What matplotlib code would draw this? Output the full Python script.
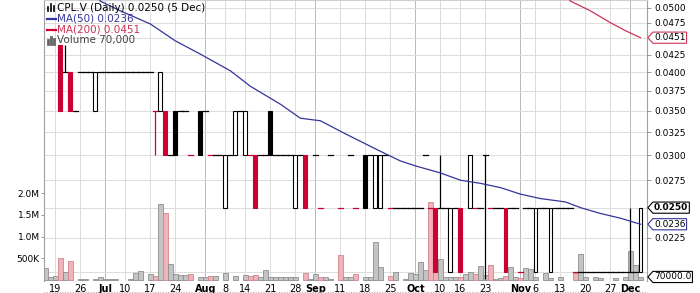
import numpy as np
import pandas as pd
import matplotlib
matplotlib.use('Agg')
import matplotlib.pyplot as plt
import matplotlib.transforms as mtransforms
from matplotlib.path import Path
from matplotlib.lines import Line2D
from matplotlib.patches import Rectangle
from matplotlib.ticker import NullLocator, NullFormatter

# trading days (TSX-V, 2017), holidays removed
days = pd.bdate_range('2017-06-15', '2017-12-05')
days = days.difference(pd.to_datetime(['2017-07-03', '2017-08-07', '2017-09-04', '2017-10-09']))

N = np.nan
open_ = [
    N, N, N, .044, .040, .040, .035, .040, .040, .040,
    .035, .040, .040, .040, .040, .040, .040, .040, .040, .040,
    .040, .040, .035, .035, .035, .030, .035, .035, .035, .030,
    N, .035, .035, .030, .030, .030, .025, .030, .030, .035,
    .030, .030, .030, .030, .030, .035, .030, .030, .030, .030,
    .025, .030, .030, N, .030, .025, N, .030, N, .025,
    N, .030, .025, N, .030, .030, .025, .025, .030, .025,
    .025, .025, .025, .025, .025, .025, .030, .025, .025, .025,
    .025, .020, .025, .025, N, .025, .025, .025, .030, .025,
    .025, .025, .025, .025, .025, .020, .025, .025, .020, .025,
    .025, .020, .025, .025, .025, .025, .020, .020, .020, .020,
    .020, .020, .020, .020, .020, .020, .020, .020, .020, .020,
]
high = [
    N, N, N, .044, .044, .040, .035, .040, .040, .040,
    .040, .040, .040, .040, .040, .040, .040, .040, .040, .040,
    .040, .040, .035, .040, .035, .030, .035, .035, .035, .030,
    N, .035, .035, .030, .030, .030, .030, .030, .035, .035,
    .035, .030, .030, .030, .030, .035, .030, .030, .030, .030,
    .030, .030, .030, N, .030, .025, N, .030, N, .025,
    N, .030, .025, N, .030, .030, .030, .030, .030, .025,
    .025, .025, .025, .025, .025, .025, .030, .025, .025, .030,
    .025, .025, .025, .025, N, .030, .025, .025, .030, .025,
    .025, .025, .025, .025, .025, .020, .025, .025, .025, .025,
    .025, .025, .025, .025, .025, .025, .020, .020, .020, .020,
    .020, .020, .020, .020, .020, .020, .020, .025, .020, .025,
]
low = [
    N, N, N, .035, .040, .035, .035, .040, .040, .040,
    .035, .040, .040, .040, .040, .040, .040, .040, .040, .040,
    .040, .040, .030, .035, .030, .030, .030, .035, .035, .030,
    N, .030, .035, .030, .030, .030, .025, .030, .030, .035,
    .030, .030, .025, .030, .030, .030, .030, .030, .030, .030,
    .025, .030, .025, N, .030, .025, N, .030, N, .025,
    N, .030, .025, N, .025, .030, .025, .025, .030, .025,
    .025, .025, .025, .025, .025, .025, .030, .025, .020, .025,
    .025, .020, .025, .020, N, .025, .025, .025, .0195, .025,
    .025, .025, .020, .025, .025, .020, .025, .025, .020, .025,
    .025, .020, .025, .025, .025, .025, .020, .020, .020, .020,
    .020, .020, .020, .020, .020, .020, .020, .020, .020, .020,
]
close = [
    N, N, N, .035, .040, .035, .035, .040, .040, .040,
    .040, .040, .040, .040, .040, .040, .040, .040, .040, .040,
    .040, .040, .035, .040, .030, .030, .030, .035, .035, .030,
    N, .030, .035, .030, .030, .030, .030, .030, .035, .035,
    .035, .030, .025, .030, .030, .030, .030, .030, .030, .030,
    .030, .030, .025, N, .030, .025, N, .030, N, .025,
    N, .030, .025, N, .025, .030, .030, .030, .030, .025,
    .025, .025, .025, .025, .025, .025, .030, .025, .020, .025,
    .025, .025, .025, .020, N, .030, .025, .025, .030, .025,
    .025, .025, .020, .025, .025, .020, .025, .025, .025, .025,
    .025, .025, .025, .025, .025, .025, .020, .020, .020, .020,
    .020, .020, .020, .020, .020, .020, .020, .020, .020, .025,
]
# volume in thousands of shares
volume_k = [
    270, 62, 92, 500, 177, 438, 0, 30, 30, 0,
    30, 60, 30, 30, 30, 0, 0, 15, 170, 200,
    0, 130, 90, 1750, 1540, 370, 130, 110, 110, 130,
    0, 60, 60, 90, 90, 0, 170, 0, 90, 0,
    120, 100, 120, 70, 240, 60, 60, 60, 80, 80,
    80, 0, 170, 20, 130, 80, 80, 30, 0, 575,
    76, 60, 130, 0, 76, 60, 875, 306, 0, 92,
    177, 0, 30, 170, 130, 408, 230, 1800, 450, 480,
    76, 76, 60, 76, 130, 180, 130, 320, 115, 345,
    20, 40, 100, 306, 60, 40, 285, 246, 76, 0,
    160, 40, 0, 60, 0, 0, 150, 590, 76, 0,
    76, 40, 0, 0, 40, 0, 76, 670, 340, 70,
]

# moving averages (day index, value)
ma50_day = [10, 11, 15, 21, 26, 31, 37, 41, 47, 51, 55, 60, 64, 67, 71, 74, 79, 83, 87, 91, 95, 99, 104, 107, 111, 115, 119]
ma50 = [0.0525, 0.0512, 0.0495, 0.0473, 0.0446, 0.0426, 0.0402, 0.0381, 0.0358, 0.0341, 0.0338, 0.0323, 0.0312,
        0.0304, 0.0294, 0.0289, 0.0282, 0.0275, 0.0272, 0.0268, 0.0262, 0.0258, 0.0255, 0.0250, 0.0245, 0.0241, 0.0236]
ma200_day = [104, 105, 109, 113, 116, 119]
ma200 = [0.0525, 0.0512, 0.0495, 0.0475, 0.0462, 0.0451]

# x labels
label_dates = ['2017-06-19', '2017-06-26', '2017-07-04', '2017-07-10', '2017-07-17', '2017-07-24',
               '2017-08-01', '2017-08-08', '2017-08-14', '2017-08-21', '2017-08-28', '2017-09-01',
               '2017-09-11', '2017-09-18', '2017-09-25', '2017-10-02', '2017-10-10', '2017-10-16',
               '2017-10-23', '2017-11-01', '2017-11-06', '2017-11-13', '2017-11-20', '2017-11-27',
               '2017-12-01']
labels = ['19', '26', 'Jul', '10', '17', '24', 'Aug', '8', '14', '21', '28', 'Sep', '11', '18', '25',
          'Oct', '10', '16', '23', 'Nov', '6', '13', '20', '27', 'Dec']
months = ['Jul', 'Aug', 'Sep', 'Oct', 'Nov', 'Dec']

price_ticks = [0.0225, 0.0275, 0.0300, 0.0325, 0.0350, 0.0375, 0.0400, 0.0425, 0.0475, 0.0500]
grid_prices = [0.0200, 0.0225, 0.0250, 0.0275, 0.0300, 0.0325, 0.0350, 0.0375, 0.0400, 0.0425,
               0.0450, 0.0475, 0.0500]
vol_ticks = [500e3, 1.0e6, 1.5e6, 2.0e6]
vol_labels = ['500K', '1.0M', '1.5M', '2.0M']

RED = '#cc0033'
NAVY = '#35359a'
MA200_RED = '#cc3355'
P_LO, P_HI = 0.01938, 0.0514
V_LO, V_HI = -23000, 6.45e6

x = np.arange(len(days))
o = np.array(open_)
h = np.array(high)
l = np.array(low)
c = np.array(close)
vol = np.array(volume_k) * 1000.0

# down day = close below previous close
down = np.zeros(len(c), dtype=bool)
prev = np.nan
for i in range(len(c)):
    if np.isnan(c[i]):
        continue
    ref = prev if not np.isnan(prev) else o[i]
    down[i] = c[i] < ref
    prev = c[i]

fig = plt.figure(figsize=(7, 2.93), dpi=100)
rect = [44 / 700, 12 / 293, 603 / 700, 281 / 293]
axv = fig.add_axes(rect)
ax = fig.add_axes(rect, sharex=axv)
ax.set_facecolor('none')

axv.set_xlim(-0.26, 120.3)
axv.set_ylim(V_LO, V_HI)
ax.set_yscale('log')
ax.set_ylim(P_LO, P_HI)

# grid (behind the volume bars)
label_idx = [days.get_loc(pd.Timestamp(d)) for d in label_dates]
for d, lbl in zip(label_idx, labels):
    axv.axvline(d, color='#b8b8b8' if lbl in months else '#dcdcdc', lw=0.7, zorder=0)
lo, hi = np.log(P_LO), np.log(P_HI)
for p in grid_prices:
    f = (np.log(p) - lo) / (hi - lo)
    axv.plot([0, 1], [f, f], transform=axv.transAxes, color='#dcdcdc', lw=0.7, zorder=0)

# volume
keep = vol > 0
vcol = np.where(down, '#eeb4ba', '#c4c4c4')
vedge = np.where(down, '#d0848e', '#8e8e8e')
axv.bar(x[keep], vol[keep], width=0.9, color=vcol[keep], edgecolor=vedge[keep], linewidth=0.6, zorder=2)

# candles
for i in range(len(c)):
    if np.isnan(c[i]):
        continue
    col = RED if down[i] else 'black'
    top, bot = max(o[i], c[i]), min(o[i], c[i])
    if h[i] > top:
        ax.vlines(i, top, h[i], color=col, lw=0.9, zorder=3)
    if l[i] < bot:
        ax.vlines(i, l[i], bot, color=col, lw=0.9, zorder=3)
    if o[i] == c[i]:
        ax.hlines(c[i], i - 0.5, i + 0.5, color=col, lw=0.9, capstyle='projecting', zorder=3)
    else:
        fc = col if c[i] < o[i] else 'white'
        ax.add_patch(Rectangle((i - 0.39, bot), 0.78, top - bot, facecolor=fc,
                               edgecolor=col, lw=0.8, zorder=4))

# moving averages
ax.plot(ma50_day, ma50, color=NAVY, lw=0.9, zorder=5)
ax.plot(ma200_day, ma200, color=MA200_RED, lw=0.9, zorder=5)

# price axis on the right
ax.yaxis.tick_right()
ax.yaxis.set_minor_locator(NullLocator())
ax.yaxis.set_minor_formatter(NullFormatter())
ax.set_yticks(price_ticks)
ax.set_yticklabels(['%.4f' % p for p in price_ticks])
ax.tick_params(axis='y', length=3, width=0.6, color='#888888', labelsize=6.5, pad=2)
for s in ax.spines.values():
    s.set_visible(False)

# x labels
ax.set_xticks(label_idx)
ax.set_xticklabels(labels)
ax.tick_params(axis='x', length=0, labelsize=7, pad=2)
for t, lbl in zip(ax.get_xticklabels(), labels):
    if lbl in months:
        t.set_fontweight('bold')
axv.tick_params(axis='x', labelbottom=False, length=0)

# volume axis on the left
axv.set_yticks(vol_ticks)
axv.set_yticklabels(vol_labels)
axv.tick_params(axis='y', length=2, width=0.6, color='#888888', labelsize=6.5, pad=1)
for k, s in axv.spines.items():
    s.set_color('#a0a0a0')
    s.set_linewidth(0.8)
axv.spines['top'].set_color('#d0d0d0')
axv.spines['bottom'].set_visible(False)


def tag_box(x0, y0, width, height, mutation_size):
    pad = mutation_size * 0.12
    x0, y0 = x0 - pad, y0 - pad
    width, height = width + 2 * pad, height + 2 * pad
    tip = height * 0.45
    verts = [(x0, y0), (x0 + width, y0), (x0 + width, y0 + height), (x0, y0 + height),
             (x0 - tip, y0 + height / 2), (x0, y0), (x0, y0)]
    return Path(verts, closed=True)


trp = mtransforms.blended_transform_factory(ax.transAxes, ax.transData)
trv = mtransforms.blended_transform_factory(axv.transAxes, axv.transData)
tx = 1 + 7 / 603
ax.text(tx, ma200[-1], '%.4f' % ma200[-1], transform=trp, fontsize=6.5, va='center', ha='left',
        bbox=dict(boxstyle=tag_box, fc='white', ec=MA200_RED, lw=0.8), clip_on=False, zorder=10)
ax.text(tx, close[-1], '%.4f' % close[-1], transform=trp, fontsize=6.5, va='center', ha='left',
        fontweight='bold', bbox=dict(boxstyle=tag_box, fc='white', ec='black', lw=0.8),
        clip_on=False, zorder=10)
ax.text(tx, ma50[-1], '%.4f' % ma50[-1], transform=trp, fontsize=6.5, va='center', ha='left',
        bbox=dict(boxstyle=tag_box, fc='white', ec=NAVY, lw=0.8), clip_on=False, zorder=10)
axv.text(tx, vol[-1], '%.1f' % vol[-1], transform=trv, fontsize=6.5, va='center', ha='left',
         bbox=dict(boxstyle=tag_box, fc='white', ec='black', lw=0.8), clip_on=False, zorder=10)

# legend block, top left
def fy(py):
    return 1 - py / 293


fig.text(57 / 700, fy(8), 'CPL.V (Daily) %.4f (5 Dec)' % close[-1], fontsize=7.5, va='center', color='black')
fig.text(57 / 700, fy(18.5), 'MA(50) %.4f' % ma50[-1], fontsize=7.5, va='center', color=NAVY)
fig.text(57 / 700, fy(29.5), 'MA(200) %.4f' % ma200[-1], fontsize=7.5, va='center', color=MA200_RED)
fig.text(57 / 700, fy(40.5), 'Volume %s' % format(int(vol[-1]), ','), fontsize=7.5, va='center', color='#444444')
fig.add_artist(Line2D([47 / 700, 56 / 700], [fy(18.5)] * 2, color=NAVY, lw=1.6))
fig.add_artist(Line2D([47 / 700, 56 / 700], [fy(29.5)] * 2, color=RED, lw=1.6))
for k, hh in enumerate([4, 7, 5]):
    xx = (48 + k * 3) / 700
    fig.add_artist(Line2D([xx, xx], [fy(44), fy(44 - hh)], color='#666666', lw=2))
    fig.add_artist(Line2D([xx, xx], [fy(11), fy(11 - hh)], color='black', lw=1.2))

# dotted line along the bottom
fig.add_artist(Line2D([44 / 700, 647 / 700], [1.5 / 293] * 2, color='#aaaaaa', lw=0.7, ls=':'))

fig.savefig('out.png', dpi=100)
